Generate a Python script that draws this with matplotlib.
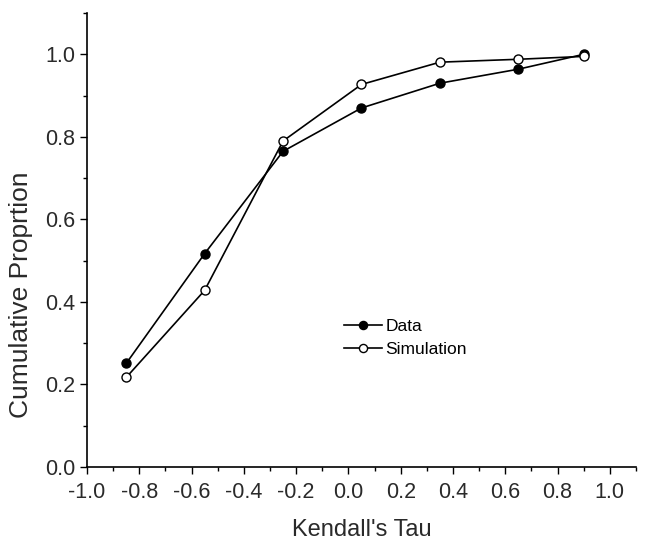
import matplotlib.pyplot as plt
from matplotlib.ticker import MultipleLocator

plt.rcParams["font.family"] = ["Liberation Sans", "DejaVu Sans"]

tau = [-0.85, -0.55, -0.25, 0.05, 0.35, 0.65, 0.9]
data_prop = [0.251, 0.517, 0.765, 0.870, 0.930, 0.964, 1.0]
sim_prop = [0.217, 0.428, 0.790, 0.927, 0.981, 0.988, 0.995]

fig = plt.figure(figsize=(6.49, 5.44), dpi=100)
ax = fig.add_axes([0.134, 0.1415, 0.846, 0.8345])

ax.plot(tau, data_prop, color="black", lw=1.2, marker="o", ms=6.5,
        mfc="black", mec="black", label="Data", zorder=3)
ax.plot(tau, sim_prop, color="black", lw=1.2, marker="o", ms=6.5,
        mfc="white", mec="black", mew=1.0, label="Simulation", zorder=4)

ax.set_xlim(-1.0, 1.1)
ax.set_ylim(0.0, 1.1)
ax.xaxis.set_major_locator(MultipleLocator(0.2))
ax.xaxis.set_minor_locator(MultipleLocator(0.1))
ax.yaxis.set_major_locator(MultipleLocator(0.2))
ax.yaxis.set_minor_locator(MultipleLocator(0.1))
ax.xaxis.set_major_formatter(lambda v, p: f"{v:.1f}")
ax.yaxis.set_major_formatter(lambda v, p: f"{v:.1f}")

for s in ("top", "right"):
    ax.spines[s].set_visible(False)
for s in ("left", "bottom"):
    ax.spines[s].set_linewidth(1.2)

ax.tick_params(which="major", direction="out", length=5, width=1.0,
               labelsize=15.5, labelcolor="#2a2a2a")
ax.tick_params(which="minor", direction="out", length=3, width=1.0)
ax.tick_params(axis="x", which="major", pad=6)

ax.set_xlabel("Kendall's Tau", fontsize=17, color="#2a2a2a", labelpad=11)
ax.set_ylabel("Cumulative Proprtion", fontsize=19, color="#2a2a2a")
ax.yaxis.set_label_coords(-0.098, 0.38)

ax.legend(loc="upper left", bbox_to_anchor=(0.455, 0.342), frameon=False,
          fontsize=12.5, handlelength=2.2, handletextpad=0.2, labelspacing=0.45,
          borderaxespad=0, markerscale=0.9)

fig.savefig("out.png", dpi=100)
